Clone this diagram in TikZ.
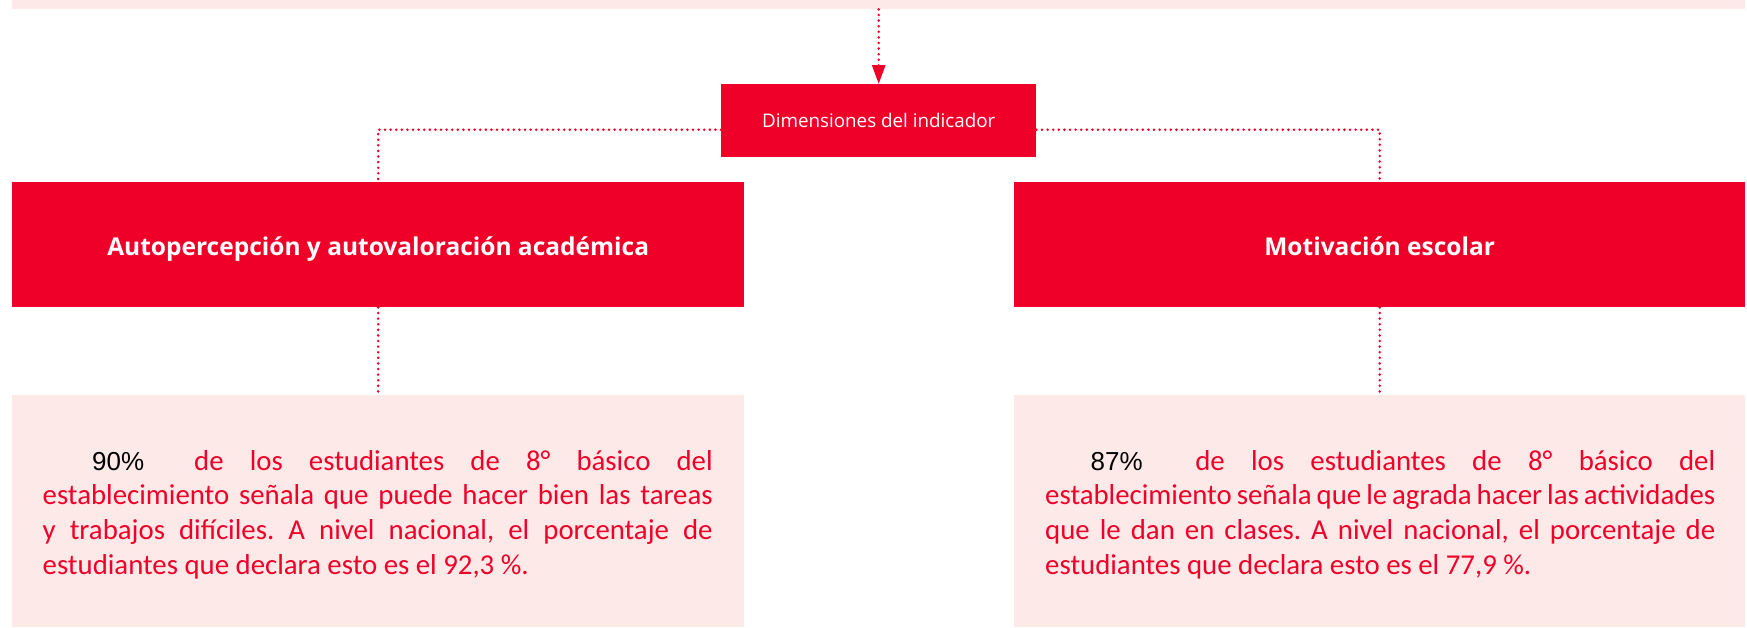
\documentclass[tikz,border=0pt]{standalone}
\usepackage{fontspec}
\setmainfont{Open Sans}
\newfontfamily\bodyfont{Carlito}
\newfontfamily\numfont{Liberation Sans}
\usetikzlibrary{arrows.meta}
\definecolor{cred}{HTML}{EE0029}
\definecolor{cpink}{HTML}{FDE9E7}
\hyphenpenalty=10000
\exhyphenpenalty=10000
\begin{document}
\begin{tikzpicture}[x=1pt,y=-1pt,
  redbox/.style={fill=cred, draw=none, text=white, inner sep=0pt, anchor=north west},
  titlebox/.style={redbox, minimum height=125pt, text height=21pt, text depth=0pt, font=\bfseries\fontsize{24.5}{28}\selectfont},
  pinkbox/.style={fill=cpink, draw=none, inner sep=0pt, anchor=north west, minimum width=732pt, minimum height=232pt},
  dots/.style={draw=cred, line width=2.8pt, dash pattern=on 0pt off 5.6pt, line cap=round},
  bodytext/.style={anchor=base west, inner sep=0pt, text width=670pt, align=justify, text=cred,
    font=\bodyfont\fontsize{28.8}{34.7}\selectfont\frenchspacing},
  pct/.style={font=\numfont\fontsize{26}{34.7}\selectfont, text=black}]
\useasboundingbox (0,0) rectangle (1747,627);
% top band
\node[pinkbox, minimum width=1733pt, minimum height=9pt] (tb) at (12,0) {};
% central node
\node[redbox, minimum width=315pt, minimum height=73pt, font=\fontsize{18.8}{22}\selectfont] (dim) at (721,84) {Dimensiones del indicador};
% titles
\node[titlebox, minimum width=732pt] (lt) at (12,182) {Autopercepción y autovaloración académica};
\node[titlebox, minimum width=731pt] (rt) at (1014,182) {Motivación escolar};
% pink boxes
\node[pinkbox] (lb) at (12,395) {};
\node[pinkbox, minimum width=731pt] (rb) at (1014,395) {};
% texts
\node[bodytext] (lbt) at (42.5,470) {\hspace*{49.5pt}{\numfont\color{black}\fontsize{26}{34.7}\selectfont 90\%}\hspace{50pt}de los estudiantes de 8° básico del\linebreak
establecimiento señala que puede hacer bien las tareas\linebreak
y trabajos difíciles. A nivel nacional, el porcentaje de\linebreak
estudiantes que declara esto es el 92,3 \%.};
\node[bodytext] (rbt) at (1045,470) {\hspace*{45.5pt}{\numfont\color{black}\fontsize{26}{34.7}\selectfont 87\%}\hspace{52.5pt}de los estudiantes de 8° básico del\linebreak
{\spaceskip=0.226em plus 0.1em minus 0.12em establecimiento señala que le agrada hacer las actividades}\linebreak
que le dan en clases. A nivel nacional, el porcentaje de\linebreak
estudiantes que declara esto es el 77,9 \%.};
% connectors
\draw[dots, -{Triangle[width=13pt,length=19pt]}] (tb.south -| dim.north) -- (dim.north);
\draw[dots] ([yshift=-9pt]dim.west) -| (lt.north);
\draw[dots] ([yshift=-9pt]dim.east) -| (rt.north);
\draw[dots] (lt.south) -- (lb.north);
\draw[dots] (rt.south) -- (rb.north);
\end{tikzpicture}
\end{document}
